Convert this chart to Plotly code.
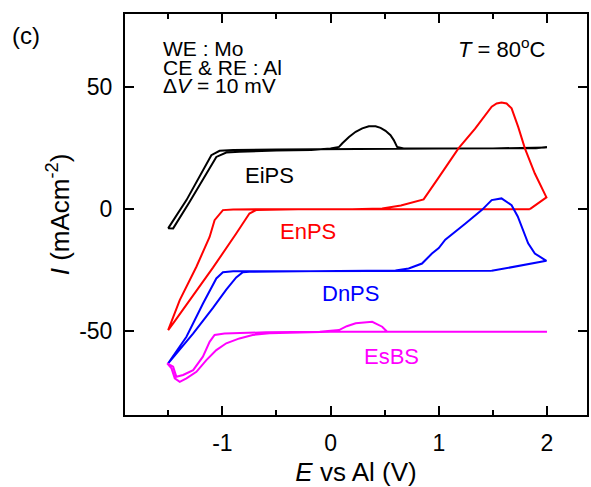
import plotly.graph_objects as go

# ---- data (E in V vs Al, I in mA cm^-2) ----
E_eips = [2.00, 1.5, 1.0, 0.5, 0.0, -0.18, -0.5, -0.9, -1.026, -1.102, -1.18, -1.332, -1.50,
          -1.455, -1.302, -1.148, -1.056, -0.964, -0.842, -0.5, -0.18, 0.0, 0.078, 0.109, 0.17,
          0.232, 0.293, 0.354, 0.416, 0.462, 0.508, 0.554, 0.584, 0.615, 0.676, 1.0, 1.5, 1.9, 2.00]
I_eips = [25.3, 24.9, 24.9, 24.8, 24.6, 24.6, 24.4, 24.2, 23.9, 22.1, 16.0, 3.7, -7.8,
          -7.9, 3.0, 14.6, 21.4, 23.2, 23.5, 24.0, 24.2, 24.9, 25.5, 27.0, 29.6,
          31.7, 33.1, 34.0, 34.0, 33.3, 32.1, 30.3, 28.3, 25.5, 24.9, 24.9, 24.9, 25.0, 25.4]

E_enps = [1.842, 1.0, 0.0, -0.5, -0.9, -0.995, -1.072, -1.118, -1.24, -1.394, -1.501,
          -1.45, -1.302, -1.087, -0.872, -0.75, -0.688, -0.3, 0.2, 0.477, 0.65, 0.784, 0.86,
          1.0, 1.09, 1.182, 1.336, 1.489, 1.535, 1.58, 1.627, 1.673, 1.734, 1.796, 1.888,
          1.995, 1.842]
I_enps = [0.0, 0.0, 0.0, 0.0, -0.1, -0.4, -4.5, -11.4, -23.6, -37.3, -49.6,
          -46.5, -37.5, -24.0, -10.0, -1.8, -0.4, 0.0, 0.0, 0.3, 1.5, 3.0, 4.0,
          13.0, 18.7, 24.9, 33.0, 42.0, 43.3, 43.7, 43.3, 41.3, 33.7, 24.9, 14.6,
          4.8, 0.0]

E_dnps = [1.489, 1.0, 0.5, 0.0, -0.5, -0.9, -0.995, -1.056, -1.179, -1.332, -1.501,
          -1.271, -1.087, -0.964, -0.872, -0.811, -0.75, -0.3, 0.2, 0.6, 0.722, 0.845,
          0.937, 1.0, 1.06, 1.12, 1.244, 1.397, 1.489, 1.58, 1.673, 1.73, 1.765, 1.826,
          1.888, 1.995, 1.489]
I_dnps = [-25.3, -25.4, -25.4, -25.4, -25.5, -25.5, -25.9, -28.4, -38.7, -52.3, -63.2,
          -51.0, -40.5, -33.0, -28.0, -25.9, -25.7, -25.5, -25.4, -25.2, -24.3, -22.3,
          -18.2, -16.0, -12.5, -10.5, -6.0, -0.4, 3.7, 4.4, 1.6, -3.0, -7.3, -14.0,
          -18.2, -21.2, -25.3]

E_esbs = [2.0, 1.0, 0.0, -0.566, -0.72, -0.842, -0.964, -1.056, -1.148, -1.24, -1.332,
          -1.394, -1.44, -1.47, -1.51, -1.455, -1.44, -1.425, -1.363, -1.27, -1.18,
          -1.118, -1.072, -0.98, -0.6, -0.1, 0.078, 0.15, 0.232, 0.385, 0.477, 0.523,
          1.0, 2.0]
I_esbs = [-50.3, -50.3, -50.3, -50.9, -51.6, -53.0, -55.0, -57.8, -61.9, -66.7, -69.4,
          -70.8, -69.4, -65.3, -63.2, -64.6, -66.7, -68.7, -68.0, -66.0, -60.5,
          -54.4, -51.6, -51.0, -50.5, -50.3, -49.6, -48.0, -46.8, -46.2, -48.2, -50.3,
          -50.3, -50.3]

series = [
    ("EiPS", E_eips, I_eips, "#000000"),
    ("EnPS", E_enps, I_enps, "#ff0000"),
    ("DnPS", E_dnps, I_dnps, "#0000ff"),
    ("EsBS", E_esbs, I_esbs, "#ff00ff"),
]

# label positions (data coords)
labels = [
    ("EiPS", -0.566, 13.9, "#000000"),
    ("EnPS", -0.205, -9.0, "#ff0000"),
    ("DnPS", 0.18, -34.4, "#0000ff"),
    ("EsBS", 0.566, -60.5, "#ff00ff"),
]

x_ticks = [-1, 0, 1, 2]
y_ticks = [-50, 0, 50]

FONT = "Liberation Sans, Arial, sans-serif"

fig = go.Figure()
for name, ex, iy, col in series:
    fig.add_trace(go.Scatter(x=ex, y=iy, mode="lines", name=name,
                             line=dict(color=col, width=2), showlegend=False))

ann = []
for txt, x, y, col in labels:
    ann.append(dict(x=x, y=y, xref="x", yref="y", text=txt, showarrow=False,
                    font=dict(size=22, color=col, family=FONT)))

for txt, y in [("WE : Mo", 65.7), ("CE &amp; RE : Al", 57.9), ("Δ<i>V</i> = 10 mV", 50.5)]:
    ann.append(dict(x=-1.569, y=y, xref="x", yref="y", text=txt, showarrow=False,
                    xanchor="left", font=dict(size=21, color="black", family=FONT)))
ann.append(dict(x=2.01, y=66.0, xref="x", yref="y", text="<i>T</i> = 80<sup>o</sup>C",
                showarrow=False, xanchor="right", font=dict(size=22, color="black", family=FONT)))
ann.append(dict(x=-0.248, y=0.985, xref="paper", yref="paper", text="(c)", showarrow=False,
                xanchor="left", yanchor="top",
                font=dict(size=24, color="black", family=FONT)))

axis_common = dict(
    showline=True, linecolor="black", linewidth=2, mirror="ticks",
    ticks="inside", ticklen=9, tickwidth=2, tickcolor="black",
    showgrid=False, zeroline=False,
    tickfont=dict(size=23, color="black", family=FONT),
)

fig.update_layout(
    width=591, height=487,
    margin=dict(l=125, r=2, t=14, b=72),
    paper_bgcolor="white", plot_bgcolor="white",
    xaxis=dict(range=[-1.9, 2.37], tickvals=x_ticks, ticktext=[str(v) for v in x_ticks],
               minor=dict(dtick=0.5, tick0=0, ticks="inside", ticklen=5, tickwidth=2, tickcolor="black"),
               ticklabelstandoff=6,
               title=dict(text="<i>E</i> vs Al (V)", font=dict(size=26, color="black", family=FONT), standoff=9),
               **axis_common),
    yaxis=dict(range=[-84.4, 80], tickvals=y_ticks, ticktext=[str(v) for v in y_ticks],
               ticklabelstandoff=6,
               title=dict(text="<i>I</i> (mAcm<sup>-2</sup>)", font=dict(size=26, color="black", family=FONT), standoff=2),
               **axis_common),
    annotations=ann,
)

fig.write_html("out.html", config={"displayModeBar": False},
               post_script="document.body.style.margin='0px';")
